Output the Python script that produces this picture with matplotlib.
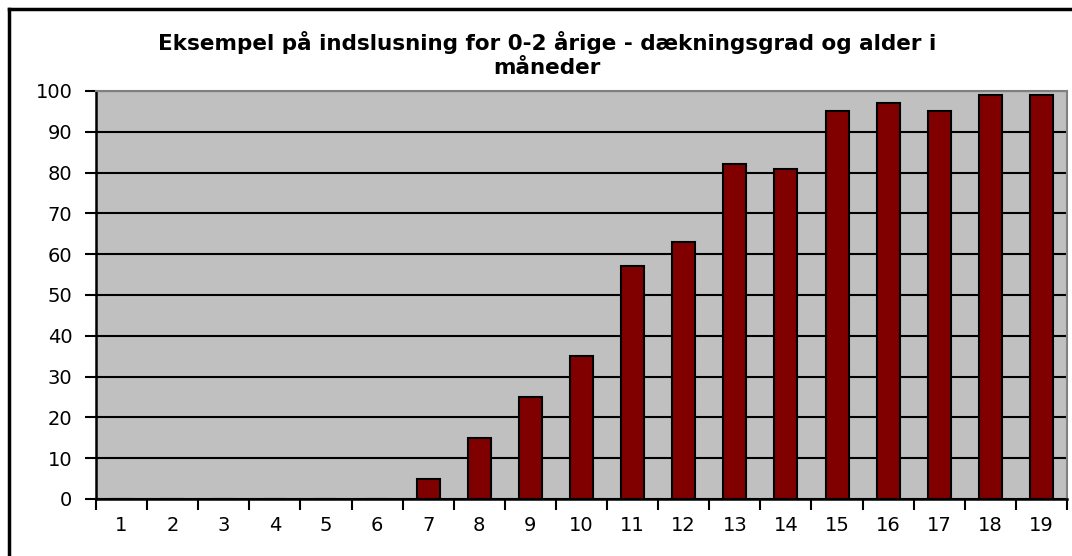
import numpy as np
import matplotlib.pyplot as plt
from matplotlib.lines import Line2D

maaneder = [str(i) for i in range(1, 20)]
daekning = [0, 0, 0, 0, 0, 0, 5, 15, 25, 35, 57, 63, 82, 81, 95, 97, 95, 99, 99]

fig = plt.figure(figsize=(10.72, 5.56), dpi=100)
ax = fig.add_axes([96/1072, 1 - 499/556, 971/1072, 408/556])

x = np.arange(len(daekning))
ax.set_facecolor('#c0c0c0')
ax.set_axisbelow(True)
ax.yaxis.grid(True, color='black', linewidth=1.5)
ax.bar(x, daekning, width=0.45, color='#800000', edgecolor='black', linewidth=1.5, zorder=3)

ax.set_xlim(-0.5, len(daekning) - 0.5)
ax.set_ylim(0, 100)
ax.set_yticks(range(0, 101, 10))
ax.set_xticks(x)
ax.set_xticklabels(maaneder)
ax.set_xticks(np.arange(-0.5, len(daekning), 1), minor=True)
ax.tick_params(axis='x', which='major', length=0, pad=12, labelsize=14)
ax.tick_params(axis='x', which='minor', length=8, width=1.5, direction='out')
ax.tick_params(axis='y', length=8, width=1.5, pad=9, labelsize=14)

for s in ['top', 'right']:
    ax.spines[s].set_color('#808080')
    ax.spines[s].set_linewidth(1.5)
for s in ['left', 'bottom']:
    ax.spines[s].set_linewidth(1.8)

fig.text(547/1072, 1 - 55/556, 'Eksempel på indslusning for 0-2 årige - dækningsgrad og alder i\nmåneder',
         ha='center', va='center', fontsize=15.5, fontweight='bold', linespacing=1.25)

# outer frame (top and left)
fig.add_artist(Line2D([9/1072, 1], [1 - 9/556, 1 - 9/556], color='black', linewidth=2.5))
fig.add_artist(Line2D([9/1072, 9/1072], [0, 1 - 9/556], color='black', linewidth=2.5))

plt.savefig('out.png', dpi=100)
